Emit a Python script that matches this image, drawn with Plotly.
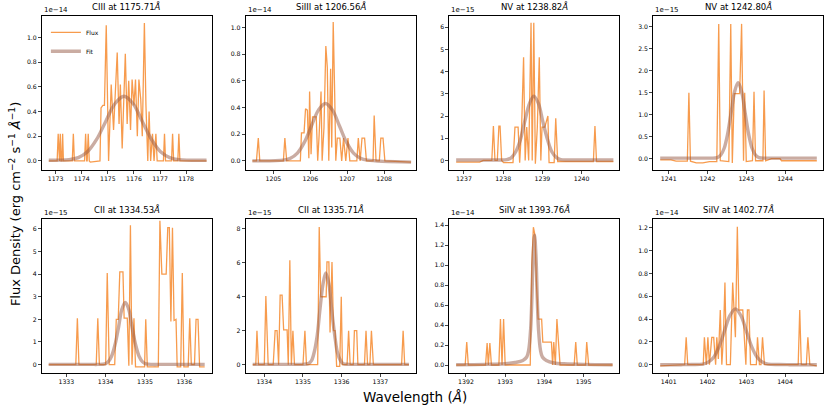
import plotly.graph_objects as go
from plotly.subplots import make_subplots

# line labels and exponents of each panel
titles = ["CIII at 1175.71<i>Å</i>", "SiIII at 1206.56<i>Å</i>", "NV at 1238.82<i>Å</i>", "NV at 1242.80<i>Å</i>",
          "CII at 1334.53<i>Å</i>", "CII at 1335.71<i>Å</i>", "SiIV at 1393.76<i>Å</i>", "SiIV at 1402.77<i>Å</i>"]
exponents = ["1e\u221214", "1e\u221214", "1e\u221215", "1e\u221215", "1e\u221215", "1e\u221215", "1e\u221214", "1e\u221214"]

# observed flux, (wavelength, flux) in units of the panel exponent
ciii_flux = [(1172.74, 0), (1173.06, 0), (1173.10, 0.22), (1173.13, 0), (1173.15, 0), (1173.18, 0.22), (1173.21, 0),
             (1173.24, 0), (1173.27, 0.22), (1173.30, 0), (1173.64, 0), (1173.68, 0.22), (1173.72, 0), (1174.11, 0),
             (1174.15, 0.22), (1174.19, 0), (1174.21, 0), (1174.25, 0.22), (1174.29, 0), (1174.33, -0.01),
             (1174.70, 0), (1174.74, 0.43), (1174.81, 0.45), (1174.87, 0.45), (1174.94, 1.10), (1175.03, 0),
             (1175.08, 0.3), (1175.13, 0.62), (1175.22, 0.25), (1175.30, 0.62), (1175.36, 0.88), (1175.43, 0.3),
             (1175.48, 0.62), (1175.55, 0.1), (1175.61, 0.45), (1175.67, 0.87), (1175.74, 0.3), (1175.80, 0.65),
             (1175.87, 0.25), (1175.93, 0.66), (1176.00, 0.45), (1176.06, 0.66), (1176.13, 0.2), (1176.19, 0.66),
             (1176.26, 0.5), (1176.32, 0.2), (1176.40, 1.12), (1176.46, 0.45), (1176.53, 0), (1176.58, 0.4),
             (1176.64, 0), (1176.71, 0.22), (1176.77, 0), (1176.84, 0.22), (1176.89, 0), (1177.13, 0),
             (1177.17, 0.22), (1177.21, 0), (1177.44, 0), (1177.48, 0.22), (1177.52, 0), (1177.68, 0),
             (1177.72, 0.22), (1177.76, 0), (1178.78, 0)]
siiii_flux = [(1204.43, 0), (1204.54, 0), (1204.59, 0.17), (1204.63, 0), (1205.27, 0), (1205.31, 0.17), (1205.36, 0),
              (1205.73, 0), (1205.76, 0.21), (1205.83, 0.21), (1205.87, 0.39), (1205.92, 0.38), (1205.96, 0.02),
              (1205.98, 0.52), (1206.02, 0.05), (1206.06, 0.33), (1206.16, 0.33), (1206.20, 0), (1206.24, 0.2),
              (1206.29, 0.52), (1206.32, 0), (1206.37, 0.25), (1206.42, 0.86), (1206.46, 0.7), (1206.50, 0),
              (1206.55, 0.69), (1206.58, 0.1), (1206.62, 1.04), (1206.66, 0.5), (1206.69, 0), (1206.73, 0.17),
              (1206.80, 0.17), (1206.85, 0), (1206.90, 0.17), (1206.96, 0), (1207.02, 0.17), (1207.07, 0),
              (1207.26, 0), (1207.30, 0.17), (1207.35, 0), (1207.40, 0.17), (1207.47, 0.17), (1207.52, 0),
              (1207.70, 0), (1207.73, 0.34), (1207.78, 0), (1207.87, 0), (1207.91, 0.17), (1207.97, 0.17),
              (1208.02, 0), (1208.73, -0.01)]
nv1_flux = [(1236.80, -0.08), (1237.40, -0.08), (1237.49, 0), (1237.71, 0), (1237.75, 1.55), (1237.79, 0),
            (1237.85, 0), (1237.89, 1.55), (1237.92, 1.55), (1237.96, 0), (1238.01, -0.1), (1238.25, -0.1),
            (1238.30, 1.5), (1238.38, 1.5), (1238.42, -0.1), (1238.47, 1.5), (1238.52, 4.65), (1238.56, 0),
            (1238.60, 1.5), (1238.65, 0), (1238.71, 6.2), (1238.74, 0), (1238.78, 6.2), (1238.82, -0.15),
            (1238.87, 1.5), (1238.92, 4.65), (1238.96, 0), (1238.99, 1.5), (1239.06, 1.5), (1239.11, 1.9),
            (1239.14, 2.0), (1239.17, -0.1), (1239.30, -0.1), (1239.34, 1.9), (1239.39, -0.05), (1240.30, -0.05),
            (1240.34, 1.55), (1240.38, -0.05), (1240.81, -0.05)]
nv2_flux = [(1240.78, -0.03), (1241.06, -0.03), (1241.19, -0.06), (1241.48, -0.06), (1241.52, 1.5), (1241.56, -0.06),
            (1241.71, -0.1), (1241.88, -0.1), (1242.05, -0.07), (1242.24, -0.07), (1242.29, 3.07), (1242.33, -0.05),
            (1242.55, -0.07), (1242.60, 3.07), (1242.64, -0.1), (1242.69, 1.48), (1242.83, 1.48), (1242.88, 3.07),
            (1242.93, -0.05), (1242.96, 1.5), (1243.00, -0.07), (1243.16, -0.05), (1243.20, 1.52), (1243.24, -0.05),
            (1243.43, -0.05), (1243.46, 1.55), (1243.50, -0.05), (1243.65, 0), (1243.87, 0), (1243.91, -0.05),
            (1244.82, -0.05)]
cii1_flux = [(1332.55, 0), (1333.24, 0), (1333.28, 2.05), (1333.32, 0), (1333.76, 0), (1333.80, 2.05), (1333.84, 0),
             (1334.00, 0), (1334.04, 4.05), (1334.09, 0), (1334.23, 0), (1334.27, 2.0), (1334.32, 2.0),
             (1334.36, 4.1), (1334.44, 4.1), (1334.47, 2.05), (1334.55, 2.05), (1334.59, -0.05), (1334.63, 6.15),
             (1334.67, 0), (1334.72, 2.05), (1334.76, -0.1), (1334.99, -0.1), (1335.02, 2.0), (1335.06, -0.1),
             (1335.34, -0.1), (1335.38, 6.35), (1335.43, 4.0), (1335.54, 4.0), (1335.58, 6.05), (1335.62, 6.05),
             (1335.66, 1.9), (1335.70, 6.05), (1335.74, 1.95), (1335.79, 2.0), (1335.82, -0.1), (1335.91, -0.1),
             (1335.95, 4.05), (1335.99, -0.1), (1336.10, -0.1), (1336.14, 2.05), (1336.18, 0), (1336.26, 0),
             (1336.30, 2.0), (1336.35, 2.0), (1336.39, -0.1), (1336.52, -0.1)]
cii2_flux = [(1333.70, 0), (1333.78, 0), (1333.81, 2.0), (1333.85, 0), (1334.00, 0), (1334.04, 4.05), (1334.10, 0),
             (1334.23, 0), (1334.28, 2.0), (1334.33, 2.0), (1334.37, 0), (1334.41, 4.1), (1334.46, 4.1),
             (1334.50, 2.05), (1334.59, 2.05), (1334.62, 0), (1334.66, 6.15), (1334.70, 0), (1334.74, 2.0),
             (1334.78, 0), (1335.00, 0), (1335.05, 2.0), (1335.09, 0), (1335.38, 0), (1335.42, 8.1), (1335.46, 4.0),
             (1335.60, 4.0), (1335.62, 6.05), (1335.67, 6.05), (1335.70, 1.9), (1335.75, 6.05), (1335.79, 2.0),
             (1335.83, 2.0), (1335.87, -0.1), (1335.95, -0.1), (1335.99, 4.0), (1336.02, 0), (1336.14, 0),
             (1336.18, 2.0), (1336.22, 0), (1336.30, 0), (1336.33, 2.0), (1336.39, 2.0), (1336.42, 0), (1336.59, 0),
             (1336.63, 2.0), (1336.67, 0), (1336.73, 0), (1336.77, 2.0), (1336.82, 0), (1337.55, 0), (1337.59, 2.0),
             (1337.63, 0), (1337.74, 0)]
siiv1_flux = [(1391.75, 0), (1391.98, 0), (1392.02, 0.23), (1392.06, 0), (1392.50, 0), (1392.54, 0.22), (1392.57, 0),
              (1392.61, 0.22), (1392.65, 0), (1392.84, 0), (1392.88, 0.46), (1392.92, 0), (1392.96, 0.46),
              (1393.00, 0), (1393.64, 0), (1393.68, 1.0), (1393.72, 1.38), (1393.76, 1.3), (1393.80, 0.8),
              (1393.84, 0.46), (1393.93, 0.46), (1393.96, 0.23), (1394.18, 0.23), (1394.21, 0), (1394.24, 0.23),
              (1394.28, 0), (1394.32, 0.46), (1394.36, 0.23), (1394.40, 0), (1394.76, 0), (1394.80, 0.23),
              (1394.84, 0), (1395.05, 0), (1395.08, 0.23), (1395.13, 0), (1395.74, 0)]
siiv2_flux = [(1400.78, -0.01), (1401.41, 0), (1401.45, 0.24), (1401.49, 0), (1401.89, 0), (1401.92, 0.24),
              (1401.97, 0), (1402.01, 0.24), (1402.05, 0), (1402.11, 0.24), (1402.16, 0.24), (1402.21, 0),
              (1402.24, 0.24), (1402.28, 0.05), (1402.33, 0.48), (1402.37, 0), (1402.41, 0.24), (1402.45, 0.72),
              (1402.49, 0), (1402.59, 0), (1402.65, 0.72), (1402.68, 0.48), (1402.72, 0.24), (1402.77, 1.21),
              (1402.81, 0.48), (1402.91, 0.48), (1402.95, 0.24), (1402.99, 0), (1403.03, 0.48), (1403.07, 0.48),
              (1403.11, 0), (1403.26, 0), (1403.29, 0.24), (1403.34, 0), (1403.38, 0), (1403.42, 0.24),
              (1403.47, 0), (1404.34, 0), (1404.38, 0.48), (1404.42, 0), (1404.55, 0), (1404.59, 0.24),
              (1404.64, 0), (1404.82, -0.01)]

# fitted profiles
ciii_fit = [(1172.74, 0.005), (1173.52, 0.01), (1173.87, 0.027), (1174.22, 0.074), (1174.57, 0.174), (1174.92, 0.32),
            (1175.27, 0.464), (1175.62, 0.525), (1175.97, 0.464), (1176.32, 0.32), (1176.67, 0.174),
            (1177.02, 0.074), (1177.37, 0.027), (1177.72, 0.01), (1178.78, 0.005)]
siiii_fit = [(1204.43, 0), (1205.27, 0.005), (1205.46, 0.019), (1205.65, 0.058), (1205.84, 0.14), (1206.03, 0.261),
             (1206.22, 0.38), (1206.41, 0.43), (1206.60, 0.38), (1206.79, 0.261), (1206.98, 0.14),
             (1207.17, 0.058), (1207.36, 0.019), (1207.55, 0.005), (1208.73, -0.01)]
nv1_fit = [(1236.80, 0.02), (1237.64, 0.02), (1237.86, 0.02), (1238.09, 0.032), (1238.21, 0.127), (1238.32, 0.392),
           (1238.44, 0.942), (1238.55, 1.759), (1238.67, 2.56), (1238.78, 2.9), (1238.90, 2.56), (1239.01, 1.759),
           (1239.13, 0.942), (1239.24, 0.392), (1239.36, 0.127), (1239.47, 0.032), (1239.70, 0.02),
           (1239.93, 0.02), (1240.81, 0.02)]
nv2_fit = [(1240.78, 0.01), (1241.89, 0.01), (1242.07, 0.01), (1242.25, 0.02), (1242.34, 0.076), (1242.43, 0.234),
           (1242.52, 0.562), (1242.61, 1.049), (1242.70, 1.527), (1242.79, 1.73), (1242.88, 1.527),
           (1242.97, 1.049), (1243.06, 0.562), (1243.15, 0.234), (1243.24, 0.076), (1243.33, 0.02),
           (1243.51, 0.01), (1243.69, 0.01), (1244.82, 0.01)]
cii1_fit = [(1332.55, 0.01), (1333.63, 0.01), (1333.80, 0.01), (1333.98, 0.03), (1334.06, 0.121), (1334.15, 0.372),
            (1334.24, 0.893), (1334.33, 1.668), (1334.41, 2.427), (1334.50, 2.75), (1334.59, 2.427),
            (1334.67, 1.668), (1334.76, 0.893), (1334.85, 0.372), (1334.94, 0.121), (1335.03, 0.03),
            (1335.20, 0.01), (1335.38, 0.01), (1336.52, 0.01)]
cii2_fit = [(1333.70, 0.02), (1334.84, 0.02), (1334.99, 0.02), (1335.14, 0.06), (1335.22, 0.237), (1335.29, 0.731),
            (1335.37, 1.753), (1335.44, 3.275), (1335.52, 4.766), (1335.59, 5.4), (1335.67, 4.766),
            (1335.74, 3.275), (1335.82, 1.753), (1335.89, 0.731), (1335.97, 0.237), (1336.04, 0.06),
            (1336.19, 0.02), (1336.34, 0.02), (1337.74, 0.02)]
siiv1_fit = [(1391.75, 0.003), (1392.50, 0.006), (1393.00, 0.012), (1393.25, 0.025), (1393.45, 0.045),
             (1393.55, 0.08), (1393.60, 0.15), (1393.65, 0.36), (1393.68, 0.65), (1393.715, 1.1), (1393.75, 1.3),
             (1393.785, 1.1), (1393.82, 0.65), (1393.85, 0.36), (1393.90, 0.15), (1393.95, 0.08), (1394.05, 0.045),
             (1394.25, 0.02), (1394.50, 0.012), (1395.00, 0.006), (1395.74, 0.003)]
siiv2_fit = [(1400.78, 0), (1401.32, 0), (1401.60, 0.001), (1401.88, 0.005), (1402.02, 0.022), (1402.16, 0.066),
             (1402.30, 0.159), (1402.44, 0.297), (1402.58, 0.432), (1402.72, 0.49), (1402.86, 0.432),
             (1403.00, 0.297), (1403.14, 0.159), (1403.28, 0.066), (1403.42, 0.022), (1403.56, 0.005),
             (1403.84, 0.001), (1404.12, 0), (1404.82, 0)]

fluxes = [ciii_flux, siiii_flux, nv1_flux, nv2_flux, cii1_flux, cii2_flux, siiv1_flux, siiv2_flux]
fits = [ciii_fit, siiii_fit, nv1_fit, nv2_fit, cii1_fit, cii2_fit, siiv1_fit, siiv2_fit]

# axis setup per panel: x range, y range, y tick step, y tick format
axes = [
    ([1172.48, 1178.98], [-0.07, 1.176], 0.2, ".1f"),
    ([1204.25, 1208.85], [-0.065, 1.085], 0.2, ".1f"),
    ([1236.63, 1240.96], [-0.41, 6.51], 1, "d"),
    ([1240.60, 1244.98], [-0.25, 3.25], 0.5, ".1f"),
    ([1332.38, 1336.70], [-0.37, 6.41], 1, "d"),
    ([1333.52, 1337.91], [-0.49, 8.55], 2, "d"),
    ([1391.58, 1395.91], [-0.08, 1.457], 0.2, ".1f"),
    ([1400.60, 1404.98], [-0.073, 1.274], 0.2, ".1f"),
]

flux_color = "rgba(245,130,32,0.8)"
fit_color = "rgba(150,90,70,0.5)"

fig = make_subplots(rows=2, cols=4, subplot_titles=titles,
                    horizontal_spacing=0.0435, vertical_spacing=0.14)

for i in range(8):
    r, c = i // 4 + 1, i % 4 + 1
    fx = [p[0] for p in fluxes[i]]
    fy = [p[1] for p in fluxes[i]]
    gx = [p[0] for p in fits[i]]
    gy = [p[1] for p in fits[i]]
    fig.add_trace(go.Scatter(x=fx, y=fy, mode="lines", name="Flux", showlegend=(i == 0),
                             line=dict(color=flux_color, width=1.3)), row=r, col=c)
    fig.add_trace(go.Scatter(x=gx, y=gy, mode="lines", name="Fit", showlegend=(i == 0),
                             line=dict(color=fit_color, width=3.4, shape="spline")), row=r, col=c)
    xr, yr, dy, fmt = axes[i]
    fig.update_xaxes(range=xr, dtick=1, tick0=0, tickformat="d", row=r, col=c)
    fig.update_yaxes(range=yr, dtick=dy, tick0=0, tickformat=fmt, row=r, col=c)
    xd = "x domain" if i == 0 else "x%d domain" % (i + 1)
    yd = "y domain" if i == 0 else "y%d domain" % (i + 1)
    fig.add_annotation(text=exponents[i], xref=xd, yref=yd, x=0, y=1, xanchor="left", yanchor="bottom",
                       showarrow=False, font=dict(size=7, color="black"))

fig.update_xaxes(showline=True, mirror=True, linecolor="black", linewidth=1, ticks="outside", ticklen=3,
                 showgrid=False, zeroline=False, tickfont=dict(size=6.2))
fig.update_yaxes(showline=True, mirror=True, linecolor="black", linewidth=1, ticks="outside", ticklen=3,
                 showgrid=False, zeroline=False, tickfont=dict(size=6.2))

for ann in fig.layout.annotations[:8]:
    ann.font = dict(size=8.5, color="black")
    ann.yshift = 2

fig.add_annotation(text="Wavelength (<i>Å</i>)", xref="paper", yref="paper", x=0.4776, y=-0.067,
                   xanchor="center", yanchor="middle", showarrow=False, font=dict(size=13.5, color="black"))
fig.add_annotation(text="Flux Density (erg cm<sup>\u22122</sup> s<sup>\u22121</sup> <i>Å</i><sup>\u22121</sup>)",
                   xref="paper", yref="paper", x=-0.0346, y=0.473, textangle=-90,
                   xanchor="center", yanchor="middle", showarrow=False, font=dict(size=13, color="black"))

fig.update_layout(
    width=830, height=415,
    margin=dict(l=42, r=7, t=16, b=42),
    plot_bgcolor="white", paper_bgcolor="white",
    font=dict(family="DejaVu Sans", color="black"),
    legend=dict(x=0.005, y=0.995, xanchor="left", yanchor="top", bgcolor="rgba(255,255,255,0.7)",
                font=dict(size=6), itemwidth=30, tracegroupgap=0),
)

# drop the default page margin so the figure sits at the window's corner
fig.write_html("out.html", config={"displayModeBar": False},
               post_script="document.body.style.margin = '0';")
